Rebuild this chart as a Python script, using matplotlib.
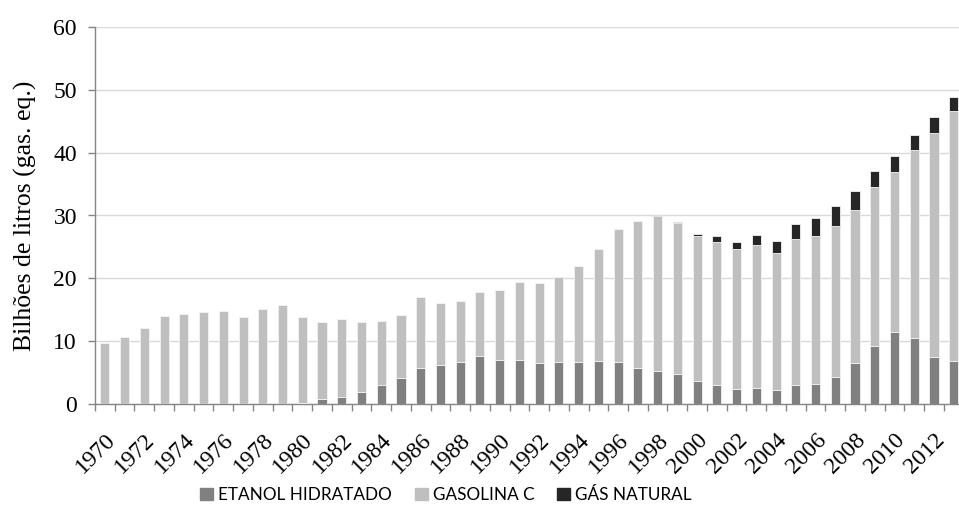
import numpy as np
import matplotlib
matplotlib.use("Agg")
import matplotlib.pyplot as plt
from matplotlib.patches import Patch

years = list(range(1970, 2014))

# tops of each stacked segment (billion litres, gas. eq.)
etanol = [0, 0, 0, 0, 0, 0, 0, 0, 0, 0,
          0.16, 0.85, 1.1, 1.9, 3.1, 4.15, 5.7, 6.2, 6.7, 7.6,
          7.0, 7.05, 6.5, 6.7, 6.7, 6.85, 6.7, 5.7, 5.25, 4.8,
          3.7, 3.1, 2.4, 2.6, 2.3, 3.1, 3.2, 4.25, 6.5, 9.3,
          11.5, 10.45, 7.5, 6.8]
gasolina_top = [9.7, 10.7, 12.05, 13.95, 14.4, 14.65, 14.8, 13.9, 15.07, 15.7,
                13.9, 13.0, 13.5, 13.1, 13.2, 14.2, 17.1, 16.0, 16.4, 17.9,
                18.1, 19.4, 19.2, 20.2, 22.0, 24.7, 27.85, 29.2, 29.95, 28.8,
                26.7, 25.8, 24.7, 25.25, 24.1, 26.3, 26.8, 28.3, 30.9, 34.5,
                36.9, 40.4, 43.1, 46.6]
gas_natural = [0]*28 + [0.1, 0.2,
               0.4, 0.9, 1.1, 1.65, 1.9, 2.4, 2.85, 3.2, 2.95, 2.6,
               2.5, 2.4, 2.5, 2.25]

etanol = np.array(etanol)
gasolina = np.array(gasolina_top) - etanol
gas_natural = np.array(gas_natural)

c_et, c_gs, c_gn = "#808080", "#bfbfbf", "#262626"
serif = "Liberation Serif"

fig = plt.figure(figsize=(9.59, 5.07), dpi=100)
ax = fig.add_axes([95/959, 103/507, 868.6/959, 377/507])

x = np.arange(len(years))
w = 0.46
kw = dict(width=w, edgecolor="#f2f2f2", linewidth=0.6, zorder=3)
ax.bar(x, etanol, color=c_et, **kw)
ax.bar(x, gasolina, bottom=etanol, color=c_gs, **kw)
ax.bar(x, gas_natural, bottom=etanol + gasolina, color=c_gn, **kw)

ax.set_xlim(-0.5, len(years) - 0.5)
ax.set_ylim(0, 60)
ax.set_yticks(range(0, 61, 10))
ax.yaxis.grid(True, color="#d9d9d9", linewidth=1, zorder=0)
ax.set_axisbelow(True)

for s in ["top", "right"]:
    ax.spines[s].set_visible(False)
for s in ["left", "bottom"]:
    ax.spines[s].set_color("#868686")
    ax.spines[s].set_linewidth(1)

lab_idx = [i for i, y in enumerate(years) if y % 2 == 0 and y <= 2012]
ax.set_xticks(lab_idx)
ax.set_xticklabels([str(years[i]) for i in lab_idx], rotation=45, ha="right",
                   rotation_mode="anchor", family=serif, fontsize=17)
ax.set_xticks(np.arange(-0.5, len(years), 1), minor=True)
ax.tick_params(axis="x", which="major", length=0, pad=18)
ax.tick_params(axis="x", which="minor", length=5, color="#868686", width=1)
ax.tick_params(axis="y", length=5, color="#868686", width=1, pad=8)
for t in ax.get_yticklabels():
    t.set_family(serif)
    t.set_fontsize(17)

ax.set_ylabel("Bilhões de litros (gas. eq.)", family=serif, fontsize=18.5,
              labelpad=12)

handles = [Patch(color=c_et, label="ETANOL HIDRATADO"),
           Patch(color=c_gs, label="GASOLINA C"),
           Patch(color=c_gn, label="GÁS NATURAL")]
fig.legend(handles=handles, loc="center", bbox_to_anchor=(446/959, 1 - 495/507),
           ncol=3, frameon=False, prop={"family": ["Lato", "DejaVu Sans"], "size": 12.3},
           handlelength=0.75, handleheight=0.75, handletextpad=0.3, columnspacing=1.35)

fig.savefig("out.png", dpi=100)
